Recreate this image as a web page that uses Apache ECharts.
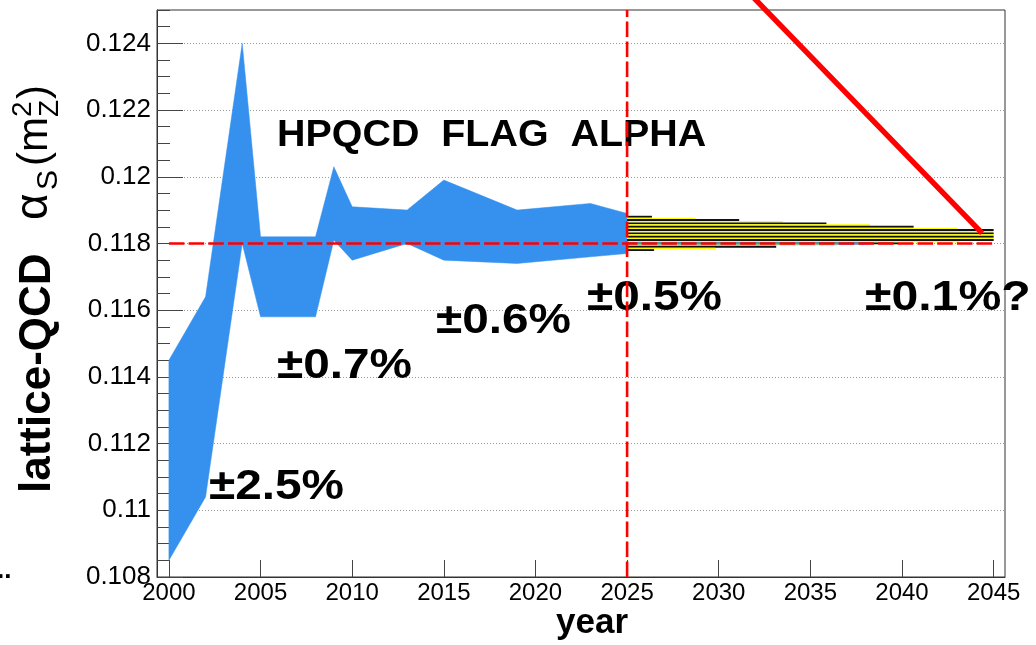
<!DOCTYPE html>
<html><head><meta charset="utf-8">
<script src="https://cdn.jsdelivr.net/npm/echarts@6/dist/echarts.min.js"></script>
<style>html,body{margin:0;padding:0;background:#fff}#c{width:1036px;height:645px}</style>
</head><body><div id="c"></div>
<script>
// ---- data ----
const bandYears = [2000, 2002, 2004, 2005, 2008, 2009, 2010, 2013, 2015, 2019, 2023, 2025];
const bandUpper = [0.1145, 0.1164, 0.1240, 0.1182, 0.1182, 0.1203, 0.1191, 0.1190, 0.1199, 0.1190, 0.1192, 0.1189];
const bandLower = [0.1085, 0.1104, 0.1180, 0.1158, 0.1158, 0.1181, 0.1175, 0.1180, 0.1175, 0.1174, 0.1176, 0.1177];
const futureYears = [2025, 2045];
const futureUpper = [0.11883, 0.11841];
const futureLower = [0.11778, 0.11808];
const refValue = 0.118;
const refYears = [2000, 2045];
const centerYears = [2025, 2038];
const splitYear = 2025;
const arrowYears = [2031.5, 2044.37];
const arrowValues = [0.1256, 0.11831];
const xTicks = [2000, 2005, 2010, 2015, 2020, 2025, 2030, 2035, 2040, 2045];
const yTicks = [0.108, 0.110, 0.112, 0.114, 0.116, 0.118, 0.120, 0.122, 0.124];
const annotations = ['HPQCD  FLAG  ALPHA', '±2.5%', '±0.7%', '±0.6%', '±0.5%', '±0.1%?'];

const FONT = "'Liberation Sans', Arial, Helvetica, sans-serif";
const chart = echarts.init(document.getElementById('c'), null, {renderer: 'canvas'});

function txt(text, x, y, size, weight, opts) {
  return Object.assign({
    type: 'text', x: x, y: y, z: 1,
    style: {text: text, fontSize: size, fontWeight: weight, fontFamily: FONT, fill: '#000',
            align: 'left', verticalAlign: 'middle'}
  }, opts || {});
}
const R = Math.PI / 2;

const option = {
  animation: false,
  backgroundColor: '#fff',
  grid: {left: 157, right: 31, top: 10, bottom: 68, show: true, borderColor: '#333', borderWidth: 1,
         backgroundColor: 'transparent', containLabel: false, outerBoundsMode: 'none'},
  xAxis: {
    type: 'value', min: 1999.35, max: 2045.62,
    axisLine: {show: true, lineStyle: {color: '#333', width: 1}},
    axisTick: {show: true, inside: true, length: 17, customValues: xTicks, lineStyle: {color: '#444'}},
    axisLabel: {show: true, customValues: xTicks, formatter: v => String(Math.round(v)),
                fontSize: 24, fontFamily: FONT, color: '#000', margin: 4},
    splitLine: {show: false}
  },
  yAxis: [{
    type: 'value', min: 0.108, max: 0.125, interval: 0.002,
    axisLine: {show: true, lineStyle: {color: '#333', width: 1}},
    axisTick: {show: true, inside: true, length: 26, customValues: yTicks, lineStyle: {color: '#444'}},
    axisLabel: {show: true, customValues: yTicks, formatter: v => String(parseFloat(v.toFixed(3))),
                fontSize: 26, fontFamily: FONT, color: '#000', margin: 6},
    splitLine: {show: true, lineStyle: {color: '#999', width: 1, type: [1, 2]}}
  }, {
    type: 'value', min: 0.108, max: 0.125, interval: 0.0005, position: 'left', offset: 0,
    axisLine: {show: false},
    axisTick: {show: true, inside: true, length: 13, lineStyle: {color: '#444'}},
    axisLabel: {show: false}, splitLine: {show: false}
  }],
  graphic: [
    txt(annotations[0], 277, 136.5, 36, 'bold', {scaleX: 1.095}),
    txt(annotations[1], 209, 487.5, 43, 'bold', {scaleX: 1.11}),
    txt(annotations[2], 277, 366, 43, 'bold', {scaleX: 1.11}),
    txt(annotations[3], 436, 321, 43, 'bold', {scaleX: 1.11}),
    txt(annotations[4], 587, 298.5, 43, 'bold', {scaleX: 1.11}),
    txt(annotations[5], 865, 298.5, 43, 'bold', {scaleX: 1.12}),
    txt('year', 592, 622.9, 35, 'bold', {style: {text: 'year', fontSize: 35, fontWeight: 'bold', fontFamily: FONT, fill: '#000', align: 'center', verticalAlign: 'middle'}}),
    txt('..', -3, 571, 26, 'bold'),
    // rotated y-axis title
    txt('lattice-QCD', 38.3, 493, 44, 'bold', {rotation: R}),
    txt('α', 34, 220, 46, 'normal', {rotation: R}),
    txt('S', 48.5, 190, 30, 'normal', {rotation: R}),
    txt('(m', 35.4, 166, 42, 'normal', {rotation: R}),
    txt('Z', 50.5, 117, 28, 'normal', {rotation: R}),
    txt('2', 23.5, 117, 28, 'normal', {rotation: R}),
    txt(')', 35.4, 99, 42, 'normal', {rotation: R})
  ],
  series: [
    {
      type: 'custom', z: 1, clip: false, yAxisIndex: 0,
      data: [[bandYears[0], bandLower[0]]],
      renderItem: function (params, api) {
        if (params.dataIndex !== 0) return null;
        const pts = [];
        for (let i = 0; i < bandYears.length; i++) pts.push(api.coord([bandYears[i], bandUpper[i]]));
        for (let i = bandYears.length - 1; i >= 0; i--) pts.push(api.coord([bandYears[i], bandLower[i]]));
        return {type: 'polygon', shape: {points: pts}, style: {fill: '#3590ee', stroke: '#3590ee', lineWidth: 0.5}};
      }
    },
    {
      type: 'custom', z: 2, clip: false, yAxisIndex: 0,
      data: [[futureYears[0], futureLower[0]]],
      renderItem: function (params, api) {
        if (params.dataIndex !== 0) return null;
        const u0 = api.coord([futureYears[0], futureUpper[0]]);
        const u1 = api.coord([futureYears[1], futureUpper[1]]);
        const l0 = api.coord([futureYears[0], futureLower[0]]);
        const l1 = api.coord([futureYears[1], futureLower[1]]);
        const x0 = u0[0], x1 = u1[0];
        const right = function (y) {
          let xr = x1;
          if (y < u1[1]) xr = Math.min(xr, x0 + (y - u0[1]) * (x1 - x0) / (u1[1] - u0[1]));
          if (y > l1[1]) xr = Math.min(xr, x0 + (l0[1] - y) * (x1 - x0) / (l0[1] - l1[1]));
          return xr;
        };
        const children = [];
        const period = 10 / 3;
        const bw = 1.9;
        for (let k = 0; ; k++) {
          const y = u0[1] + k * period;
          if (y >= l0[1]) break;
          const yy = y - (period - bw);
          const xr = right(y - (period - bw) / 2);
          if (xr > x0 && k > 0) children.push({type: 'rect', shape: {x: x0, y: yy, width: xr - x0, height: period - bw}, style: {fill: '#ffff00'}});
          const xb = right(y + bw / 2);
          if (xb > x0) children.push({type: 'rect', shape: {x: x0, y: y, width: xb - x0, height: bw}, style: {fill: '#111'}});
        }
        return {type: 'group', children: children};
      }
    },
    {
      type: 'line', z: 3, yAxisIndex: 0, symbol: 'none', silent: true,
      data: centerYears.map(y => [y, refValue]),
      lineStyle: {color: '#3590ee', width: 2}
    },
    {
      type: 'line', z: 4, yAxisIndex: 0, symbol: 'none', silent: true,
      data: refYears.map(y => [y, refValue]),
      lineStyle: {color: '#ff0000', width: 2.6, type: [15.5, 4.2]}
    },
    {
      type: 'line', z: 4, yAxisIndex: 0, symbol: 'none', silent: true,
      data: [[splitYear, 0.108], [splitYear, 0.125]],
      lineStyle: {color: '#ff0000', width: 2.6, type: [15.5, 4.5]}
    },
    {
      type: 'line', z: 5, yAxisIndex: 0, symbol: 'none', silent: true, clip: false,
      data: arrowYears.map((y, i) => [y, arrowValues[i]]),
      lineStyle: {color: '#ff0000', width: 5.4, cap: 'butt'}
    }
  ]
};
chart.setOption(option);
</script>
</body></html>
